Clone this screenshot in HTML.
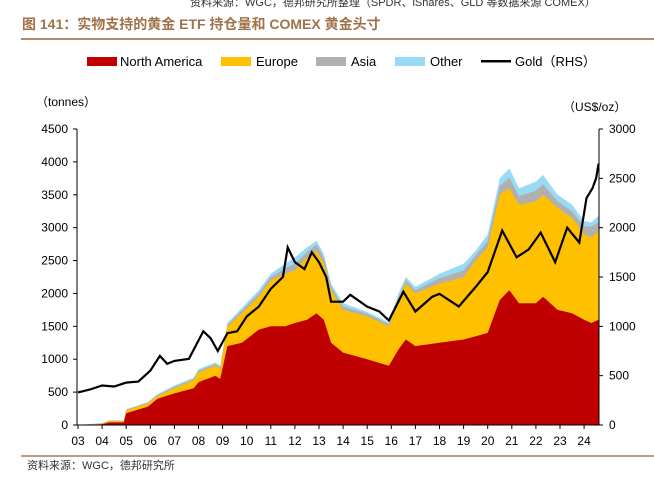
<!DOCTYPE html><html><head><meta charset="utf-8"><style>
body{margin:0;background:#fff;width:654px;height:481px;overflow:hidden;font-family:"Liberation Sans","Noto Sans CJK SC",sans-serif}
</style></head><body>
<svg id="s" width="654" height="481" xmlns="http://www.w3.org/2000/svg" font-family="Liberation Sans, Noto Sans CJK SC, sans-serif">
<text x="190" y="6" font-size="11" fill="#333">资料来源：WGC，德邦研究所整理（SPDR、iShares、GLD 等数据来源 COMEX）</text>
<text x="22" y="29" font-size="14" font-weight="bold" fill="#a0724a">图 141：实物支持的黄金 ETF 持仓量和 COMEX 黄金头寸</text>
<rect x="21" y="38" width="633" height="2" fill="#b48a66"/>
<rect x="87" y="57" width="30" height="9" fill="#c00000"/><text x="120" y="66" font-size="13">North America</text>
<rect x="221" y="57" width="30" height="9" fill="#ffc000"/><text x="256" y="66" font-size="13">Europe</text>
<rect x="316" y="57" width="30" height="9" fill="#b0b0b0"/><text x="351" y="66" font-size="13">Asia</text>
<rect x="395" y="57" width="30" height="9" fill="#99dbf5"/><text x="430" y="66" font-size="13">Other</text>
<rect x="481" y="60" width="30" height="2.5" fill="#000"/><text x="515" y="66" font-size="13">Gold（RHS）</text>
<text x="36" y="106" font-size="12">（tonnes）</text>
<text x="563" y="111" font-size="12">（US$/oz）</text>
<g id="plot"></g>
<rect x="21" y="455" width="633" height="2" fill="#c09a7a"/>
<text x="27" y="469" font-size="11" fill="#333">资料来源：WGC，德邦研究所</text>
</svg>
<script>
var X=function(y){return 78+(y-2003)*24.1},L=function(v){return 425-v*296/4500},R=function(v){return 425-v*296/3000};
var d=[[2003,0,0,0,0],[2004,10,20,25,30],[2004.3,40,60,65,70],[2004.9,40,60,65,70],[2005,180,220,230,240],[2005.9,280,330,340,350],[2006.3,400,440,455,470],[2007,480,560,580,600],[2007.8,560,680,700,720],[2008,650,800,825,850],[2008.7,750,900,925,950],[2008.9,700,850,875,900],[2009.2,1200,1500,1525,1550],[2009.8,1250,1700,1740,1780],[2010.5,1450,1950,2000,2050],[2011,1500,2200,2250,2300],[2011.6,1500,2300,2380,2450],[2012,1550,2350,2450,2550],[2012.5,1600,2550,2630,2700],[2012.9,1700,2650,2740,2800],[2013.2,1600,2450,2540,2600],[2013.5,1250,2050,2100,2150],[2014,1100,1750,1800,1850],[2015,1000,1650,1690,1720],[2015.9,900,1500,1530,1560],[2016.3,1150,1900,1950,2000],[2016.6,1300,2150,2200,2250],[2017,1200,2000,2050,2100],[2018,1250,2150,2230,2300],[2019,1300,2250,2350,2450],[2019.5,1350,2500,2580,2650],[2020,1400,2700,2800,2900],[2020.5,1900,3500,3630,3750],[2020.9,2050,3600,3760,3900],[2021.3,1850,3350,3480,3600],[2022,1850,3400,3560,3700],[2022.3,1950,3500,3660,3800],[2022.9,1750,3300,3400,3500],[2023.5,1700,3150,3250,3350],[2024,1600,2900,3020,3100],[2024.3,1550,2850,3020,3080],[2024.6,1600,2950,3080,3180]];
var g=[[2003,330],[2003.5,360],[2004,400],[2004.5,390],[2005,430],[2005.5,440],[2006,550],[2006.4,700],[2006.7,620],[2007,650],[2007.6,670],[2008.2,950],[2008.5,880],[2008.8,750],[2009.2,930],[2009.6,950],[2010,1100],[2010.5,1200],[2011,1380],[2011.5,1500],[2011.7,1800],[2012,1650],[2012.4,1580],[2012.7,1750],[2013,1650],[2013.3,1500],[2013.5,1250],[2014,1250],[2014.3,1320],[2015,1200],[2015.5,1150],[2015.9,1060],[2016.5,1350],[2017,1150],[2017.7,1300],[2018,1330],[2018.8,1200],[2019.5,1400],[2020,1550],[2020.6,1970],[2021.2,1700],[2021.7,1780],[2022.2,1950],[2022.8,1650],[2023.3,2000],[2023.8,1850],[2024.1,2300],[2024.35,2400],[2024.5,2500],[2024.6,2650]];
var o='';var cols=['#c00000','#ffc000','#b0b0b0','#99dbf5'];
for(var k=4;k>=1;k--){var p='M'+X(2003)+','+L(0);d.forEach(function(r){p+=' L'+X(r[0]).toFixed(1)+','+L(r[k]).toFixed(1)});p+=' L'+X(2024.6)+','+L(0)+'Z';o+='<path d="'+p+'" fill="'+cols[k-1]+'"/>';}
var p='';g.forEach(function(r,i){p+=(i?' L':'M')+X(r[0]).toFixed(1)+','+R(r[1]).toFixed(1)});o+='<path d="'+p+'" fill="none" stroke="#000" stroke-width="2.2"/>';
o+='<line x1="77" y1="129" x2="77" y2="425" stroke="#000"/><line x1="599" y1="129" x2="599" y2="425" stroke="#000"/><line x1="77" y1="425" x2="599" y2="425" stroke="#000"/>';
for(var i=0;i<=9;i++){var y=L(i*500);o+='<line x1="73" y1="'+y+'" x2="77" y2="'+y+'" stroke="#000"/><text x="68" y="'+(y+4)+'" font-size="12" text-anchor="end">'+i*500+'</text>';}
for(var i=0;i<=6;i++){var y=R(i*500);o+='<line x1="599" y1="'+y+'" x2="603" y2="'+y+'" stroke="#000"/><text x="609" y="'+(y+4)+'" font-size="12">'+i*500+'</text>';}
for(var i=0;i<=21;i++){var x=X(2003+i);o+='<line x1="'+x+'" y1="425" x2="'+x+'" y2="429" stroke="#000"/><text x="'+x+'" y="445" font-size="12" text-anchor="middle">'+String(i+3).padStart(2,'0')+'</text>';}
document.getElementById('plot').innerHTML=o;
</script>
</body></html>
